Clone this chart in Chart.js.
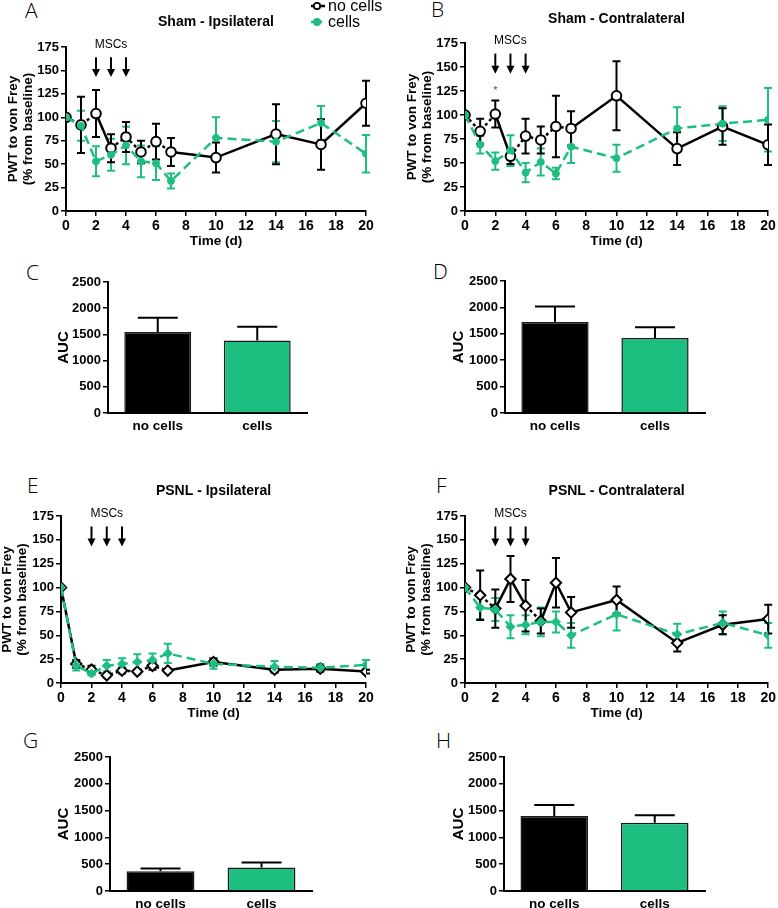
<!DOCTYPE html>
<html>
<head>
<meta charset="utf-8">
<script src="https://cdn.jsdelivr.net/npm/chart.js@4.4.1/dist/chart.umd.min.js"></script>
<style>
  body { margin: 0; background: #fff; width: 778px; height: 908px; overflow: hidden; position: relative; }
  canvas { position: absolute; }
  .letter { position: absolute; font-family: 'Open Sans', sans-serif; font-weight: 300; font-size: 21px; line-height: 1; color: #000; }
</style>
</head>
<body>
<div class="letter" style="left:25px;top:0px">A</div>
<div class="letter" style="left:431px;top:-1px">B</div>
<div class="letter" style="left:26px;top:262px">C</div>
<div class="letter" style="left:433px;top:261px">D</div>
<div class="letter" style="left:27px;top:475px">E</div>
<div class="letter" style="left:436px;top:475px">F</div>
<div class="letter" style="left:23px;top:730px">G</div>
<div class="letter" style="left:436px;top:730px">H</div>

<canvas id="panelA" width="395" height="255" style="left:0;top:0"></canvas>
<canvas id="panelB" width="390" height="255" style="left:388px;top:0"></canvas>
<canvas id="panelC" width="320" height="170" style="left:0;top:270px"></canvas>
<canvas id="panelD" width="330" height="171" style="left:388px;top:269px"></canvas>
<canvas id="panelE" width="380" height="257" style="left:0;top:470px"></canvas>
<canvas id="panelF" width="390" height="257" style="left:388px;top:470px"></canvas>
<canvas id="panelG" width="320" height="163" style="left:0;top:745px"></canvas>
<canvas id="panelH" width="330" height="163" style="left:388px;top:745px"></canvas>

<script>
const GREEN = '#1cbf80';
Chart.defaults.font.family = "'Liberation Sans', Arial, sans-serif";
Chart.defaults.color = '#000';

// time points (days)
const days = [0, 1, 2, 3, 4, 5, 6, 7, 10, 14, 17, 20];
const groups = ['no cells', 'cells'];
const mscDays = [2, 3, 4];

// Sham - ipsilateral
const shamIpsiNoCells = [100, 92, 104, 67, 79, 63, 74, 63, 57, 82, 71, 115];
const shamIpsiNoCellsSem = [0, 30, 25, 15, 16, 12, 19, 15, 16, 32, 27, 24];
const shamIpsiCells = [100, 91, 53, 60, 70, 53, 51, 32, 78, 74, 94, 61];
const shamIpsiCellsSem = [0, 16, 16, 17, 20, 17, 18, 8, 22, 22, 18, 20];

// Sham - contralateral
const shamContraNoCells = [100, 83, 101, 57, 78, 74, 88, 86, 120, 65, 88, 69];
const shamContraNoCellsSem = [0, 13, 14, 8, 18, 14, 32, 18, 36, 17, 19, 21];
const shamContraCells = [100, 69, 52, 63, 40, 51, 39, 67, 55, 86, 91, 95];
const shamContraCellsSem = [0, 9, 9, 16, 10, 14, 6, 17, 14, 22, 18, 33];

// PSNL - ipsilateral
const psnlIpsiNoCells = [100, 20, 14, 8, 13, 12, 18, 13, 22, 14, 15, 12];
const psnlIpsiNoCellsSem = [0, 4, 4, 2, 3, 2, 4, 2, 4, 3, 3, 2];
const psnlIpsiCells = [100, 18, 10, 18, 20, 22, 24, 31, 20, 17, 16, 19];
const psnlIpsiCellsSem = [0, 5, 2, 6, 6, 8, 7, 10, 5, 6, 4, 5];

// PSNL - contralateral
const psnlContraNoCells = [100, 92, 78, 109, 81, 65, 105, 74, 87, 42, 61, 67];
const psnlContraNoCellsSem = [0, 26, 20, 24, 27, 13, 26, 16, 14, 9, 10, 15];
const psnlContraCells = [100, 79, 77, 59, 61, 64, 64, 50, 72, 51, 63, 50];
const psnlContraCellsSem = [0, 12, 12, 12, 10, 15, 11, 13, 17, 11, 12, 13];

// area under curve
const aucShamIpsi = [1545, 1385];
const aucShamIpsiSem = [275, 260];
const aucShamContra = [1725, 1419];
const aucShamContraSem = [290, 205];
const aucPsnlIpsi = [370, 440];
const aucPsnlIpsiSem = [50, 90];
const aucPsnlContra = [1400, 1272];
const aucPsnlContraSem = [205, 140];

// error bars drawn through the y scale
const errorBars = {
    id: 'errorBars',
    beforeDatasetsDraw(chart, args, opts) {
        const ctx = chart.ctx;
        const yScale = chart.scales.y;
        chart.data.datasets.forEach((ds, i) => {
            if (!ds.sem) return;
            const meta = chart.getDatasetMeta(i);
            ctx.save();
            ctx.strokeStyle = opts.color || ds.borderColor;
            ctx.lineWidth = opts.width;
            meta.data.forEach((el, j) => {
                const e = ds.sem[j];
                if (!e) return;
                const d = ds.data[j];
                const v = typeof d === 'object' ? d.y : d;
                const top = yScale.getPixelForValue(v + e);
                const bot = yScale.getPixelForValue(opts.upOnly ? v : v - e);
                const x = el.x;
                ctx.beginPath();
                ctx.moveTo(x, bot);
                ctx.lineTo(x, top);
                ctx.moveTo(x - opts.cap, top);
                ctx.lineTo(x + opts.cap, top);
                if (!opts.upOnly) {
                    ctx.moveTo(x - opts.cap, bot);
                    ctx.lineTo(x + opts.cap, bot);
                }
                ctx.stroke();
            });
            ctx.restore();
        });
    }
};

// "MSCs" arrows + optional asterisk
const mscArrows = {
    id: 'mscArrows',
    afterDraw(chart, args, opts) {
        const { ctx, chartArea } = chart;
        const xs = chart.scales.x, ys = chart.scales.y;
        ctx.save();
        ctx.fillStyle = '#000';
        ctx.strokeStyle = '#000';
        ctx.font = "12px 'Liberation Sans', Arial, sans-serif";
        ctx.textAlign = 'center';
        ctx.textBaseline = 'middle';
        ctx.fillText('MSCs', xs.getPixelForValue(mscDays[1]), chartArea.top - 2);
        const y0 = ys.getPixelForValue(164);
        const y1 = ys.getPixelForValue(143);
        mscDays.forEach(d => {
            const px = xs.getPixelForValue(d);
            ctx.lineWidth = 2;
            ctx.beginPath();
            ctx.moveTo(px, y0);
            ctx.lineTo(px, y1 - 6);
            ctx.stroke();
            ctx.beginPath();
            ctx.moveTo(px - 4, y1 - 8);
            ctx.lineTo(px + 4, y1 - 8);
            ctx.lineTo(px, y1);
            ctx.closePath();
            ctx.fill();
        });
        if (opts.star) {
            ctx.fillStyle = '#555';
            ctx.font = "11px 'Liberation Sans', Arial, sans-serif";
            ctx.fillText('*', xs.getPixelForValue(opts.star[0]), ys.getPixelForValue(opts.star[1]) + 2);
        }
        ctx.restore();
    }
};

// legend key in the top right of panel A
const legendKey = {
    id: 'legendKey',
    afterDraw(chart) {
        const ctx = chart.ctx;
        const rows = [
            { label: groups[0], y: 6, color: '#000', fill: '#fff', dash: [] },
            { label: groups[1], y: 22, color: GREEN, fill: GREEN, dash: [4, 3] }
        ];
        ctx.save();
        rows.forEach(r => {
            ctx.strokeStyle = r.color;
            ctx.lineWidth = 2.5;
            ctx.setLineDash(r.dash);
            ctx.beginPath();
            ctx.moveTo(311, r.y);
            ctx.lineTo(325, r.y);
            ctx.stroke();
            ctx.setLineDash([]);
            ctx.fillStyle = r.fill;
            ctx.lineWidth = 1.8;
            ctx.beginPath();
            ctx.arc(317, r.y, 3.2, 0, Math.PI * 2);
            ctx.fill();
            ctx.stroke();
            ctx.fillStyle = '#000';
            ctx.font = "16px 'Liberation Sans', Arial, sans-serif";
            ctx.textBaseline = 'middle';
            ctx.fillText(r.label, 328, r.y + 1);
        });
        ctx.restore();
    }
};

function lineChart(id, noCells, noCellsSem, cells, cellsSem, p) {
    const pts = vals => vals.map((v, i) => ({ x: days[i], y: v }));
    const extra = [errorBars, mscArrows];
    if (p.legend) extra.push(legendKey);
    return new Chart(document.getElementById(id), {
        type: 'line',
        data: {
            datasets: [
                {
                    label: groups[1],
                    data: pts(cells),
                    sem: cellsSem,
                    borderColor: GREEN,
                    backgroundColor: GREEN,
                    borderWidth: 2.5,
                    borderDash: [9, 5],
                    pointStyle: p.shape,
                    pointRadius: p.shape === 'circle' ? 3.5 : 4.5,
                    pointBackgroundColor: GREEN,
                    pointBorderColor: GREEN,
                    pointBorderWidth: 1,
                    tension: 0
                },
                {
                    label: groups[0],
                    data: pts(noCells),
                    sem: noCellsSem,
                    borderColor: '#000',
                    backgroundColor: '#fff',
                    borderWidth: 2.5,
                    segment: {
                        borderDash: c => p.dotted.includes(c.p0DataIndex) ? [3, 3] : undefined
                    },
                    pointStyle: p.shape,
                    pointRadius: p.shape === 'circle' ? 4.8 : 5.2,
                    pointBackgroundColor: '#fff',
                    pointBorderColor: '#000',
                    pointBorderWidth: 2,
                    tension: 0
                }
            ]
        },
        options: {
            responsive: false,
            animation: false,
            layout: { padding: p.pad },
            plugins: {
                legend: { display: false },
                tooltip: { enabled: false },
                title: {
                    display: true,
                    text: p.title,
                    fullSize: false,
                    color: '#000',
                    font: { size: 14, weight: 'bold', lineHeight: '18px' },
                    padding: { top: 0, bottom: p.titleGap }
                },
                errorBars: { cap: 4, width: 2 },
                mscArrows: { star: p.star }
            },
            scales: {
                x: {
                    type: 'linear',
                    min: 0,
                    max: 20,
                    ticks: { stepSize: 2, autoSkip: false, maxRotation: 0, padding: 2, font: { size: 14, weight: 'bold' } },
                    grid: { drawOnChartArea: false, drawTicks: true, tickLength: 5, color: '#000', lineWidth: 1.5 },
                    border: { color: '#000', width: 2 },
                    title: { display: true, text: 'Time (d)', font: { size: 13.5, weight: 'bold' }, padding: { top: 2, bottom: 2 } },
                    afterFit: s => { s.height = 40; }
                },
                y: {
                    min: 0,
                    max: 175,
                    ticks: { stepSize: 25, padding: 2, font: { size: 13, weight: 'bold' } },
                    grid: { drawOnChartArea: false, drawTicks: true, tickLength: 5, color: '#000', lineWidth: 1.5 },
                    border: { color: '#000', width: 2 },
                    title: {
                        display: true,
                        text: ['PWT to von Frey', '(% from baseline)'],
                        font: { size: 13.5, weight: 'bold', lineHeight: 1.1 },
                        padding: { top: p.yTitlePad, bottom: 0 }
                    },
                    afterFit: s => { s.width = p.yWidth; }
                }
            }
        },
        plugins: extra
    });
}

function barChart(id, values, sem, p) {
    return new Chart(document.getElementById(id), {
        type: 'bar',
        data: {
            labels: groups,
            datasets: [{
                data: values,
                sem: sem,
                backgroundColor: ['#000', GREEN],
                borderColor: '#1a1a1a',
                borderWidth: 1.5,
                barPercentage: 0.84,
                categoryPercentage: 0.8
            }]
        },
        options: {
            responsive: false,
            animation: false,
            layout: { padding: p.pad },
            plugins: {
                legend: { display: false },
                tooltip: { enabled: false },
                errorBars: { cap: 20, width: 2, upOnly: true, color: '#000' }
            },
            scales: {
                x: {
                    grid: { drawOnChartArea: false, drawTicks: false },
                    border: { color: '#000', width: 2 },
                    ticks: { padding: 5, font: { size: 13.5, weight: 'bold' } },
                    afterFit: s => { s.height = p.xHeight; }
                },
                y: {
                    min: 0,
                    max: 2500,
                    ticks: { stepSize: 500, padding: 2, format: { useGrouping: false }, font: { size: 13, weight: 'bold' } },
                    grid: { drawOnChartArea: false, drawTicks: true, tickLength: 5, color: '#000', lineWidth: 1.5 },
                    border: { color: '#000', width: 2 },
                    title: { display: true, text: 'AUC', font: { size: 15, weight: 'bold' }, padding: { top: p.yTitlePad, bottom: 0 } },
                    afterFit: s => { s.width = p.yWidth; }
                }
            }
        },
        plugins: [errorBars]
    });
}

lineChart('panelA', shamIpsiNoCells, shamIpsiNoCellsSem, shamIpsiCells, shamIpsiCellsSem, {
    title: 'Sham - Ipsilateral', shape: 'circle', dotted: [0, 1, 3, 4, 5, 6],
    pad: { top: 13, left: 2, right: 29, bottom: 4 }, titleGap: 16, yWidth: 64, yTitlePad: 4, legend: true
});
lineChart('panelB', shamContraNoCells, shamContraNoCellsSem, shamContraCells, shamContraCellsSem, {
    title: 'Sham - Contralateral', shape: 'circle', dotted: [0, 1, 3, 4, 5, 6],
    pad: { top: 10, left: 16, right: 10, bottom: 4 }, titleGap: 15, yWidth: 61, yTitlePad: 1, star: [2, 127]
});
lineChart('panelE', psnlIpsiNoCells, psnlIpsiNoCellsSem, psnlIpsiCells, psnlIpsiCellsSem, {
    title: 'PSNL - Ipsilateral', shape: 'rectRot', dotted: [1, 2, 3, 4, 5, 6],
    pad: { top: 12, left: 0, right: 14, bottom: 4 }, titleGap: 16, yWidth: 61, yTitlePad: 0
});
lineChart('panelF', psnlContraNoCells, psnlContraNoCellsSem, psnlContraCells, psnlContraCellsSem, {
    title: 'PSNL - Contralateral', shape: 'rectRot', dotted: [0, 1, 4],
    pad: { top: 12, left: 16, right: 9, bottom: 4 }, titleGap: 16, yWidth: 61, yTitlePad: 0
});

barChart('panelC', aucShamIpsi, aucShamIpsiSem, { pad: { top: 12, left: 54, right: 13, bottom: 2 }, xHeight: 25, yWidth: 54, yTitlePad: 1 });
barChart('panelD', aucShamContra, aucShamContraSem, { pad: { top: 12, left: 62, right: 13, bottom: 2 }, xHeight: 25, yWidth: 55, yTitlePad: 0 });
barChart('panelG', aucPsnlIpsi, aucPsnlIpsiSem, { pad: { top: 12, left: 54, right: 8, bottom: 0 }, xHeight: 17, yWidth: 56, yTitlePad: 1 });
barChart('panelH', aucPsnlContra, aucPsnlContraSem, { pad: { top: 12, left: 62, right: 13, bottom: 0 }, xHeight: 17, yWidth: 54, yTitlePad: 0 });
</script>
</body>
</html>
